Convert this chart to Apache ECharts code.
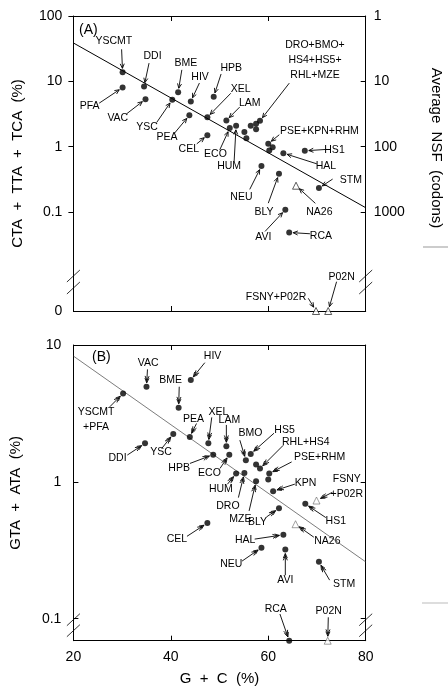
<!DOCTYPE html>
<html>
<head>
<meta charset="utf-8">
<script src="https://cdn.jsdelivr.net/npm/echarts@6/dist/echarts.min.js"></script>
<style>
  html, body { margin: 0; padding: 0; background: #fff; }
  #chart { width: 448px; height: 690px; }
</style>
</head>
<body>
<div id="chart"></div>
<script>
// ---- (A) CTA + TTA + TCA (%) vs G + C (%) ----
const namesA = ['YSCMT','PFA','DDI','VAC','YSC','BME','HIV','PEA','HPB','XEL','CEL','LAM','ECO','HUM',
  'DRO','BMO','HS4','HS5','RHL','MZE','PSE','KPN','RHM','HS1','HAL','NEU','BLY','STM','AVI','RCA'];
const gcA  = [30.1,30.1,34.5,34.8,40.3,41.5,44.1,43.8,48.8,47.5,47.5,51.4,52.1,53.4,
  55.1,55.5,56.4,57.5,57.5,58.3,60.0,60.9,60.2,67.5,63.1,58.6,62.2,70.4,63.5,64.3];
const leuA = [13.7,8.0,8.3,5.3,5.2,6.8,4.9,3.0,5.8,2.8,1.49,2.5,1.91,2.07,
  1.66,1.34,2.07,1.84,2.22,2.47,1.10,0.975,0.865,0.857,0.79,0.50,0.38,0.23,0.107,0.048];
const triNamesA = ['NA26','FSNY+P02R','P02N'];
const triGcA  = [65.7,69.8,72.3];
const triLeuA = [0.25,0,0];
const fitGcA  = [20,80];
const fitLeuA = [38.6,0.115];

// ---- (B) GTA + ATA (%) vs G + C (%) ----
const namesB = ['VAC','HIV','YSCMT+PFA','BME','YSC','PEA','DDI','XEL','LAM','HPB','ECO','BMO','HS5',
  'RHL','HS4','PSE','RHM','HUM','DRO','MZE','KPN','HS1','BLY','CEL','HAL','NEU','AVI','STM','RCA'];
const gcB  = [35.0,44.1,30.2,41.6,40.5,43.9,34.7,47.7,51.4,48.7,52.0,55.4,56.4,
  57.5,58.3,60.2,60.0,53.4,55.1,57.5,61.0,67.6,62.2,47.5,63.1,58.6,63.5,70.4,64.3];
const valB = [4.95,5.55,4.43,3.48,2.24,2.13,1.91,1.91,1.82,1.58,1.58,1.44,1.60,
  1.34,1.25,1.15,1.04,1.15,1.16,1.01,0.855,0.69,0.64,0.50,0.41,0.33,0.32,0.26,0];
const triNamesB = ['FSNY+P02R','NA26','P02N'];
const triGcB  = [69.9,65.6,72.2];
const triValB = [0.73,0.49,0];
const fitGcB  = [20,80];
const fitValB = [8.3,0.26];

// right-hand scale of (A)
const nsfTicks = [1,10,100,1000];

// zero values sit on the floor of the broken log axis
const floorA = 0.003;
const floorB = 0.069;

// label layout: [text, dot|tri, index, label dx, dy, arrow tail dx, dy] (px from the point)
const labelsA = [
  ['YSCMT','d',0,-8.7,-31.3,-1,-23],
  ['PFA','d',1,-33,19,-23.4,15.6],
  ['DDI','d',2,8.5,-30,5,-23.4],
  ['VAC','d',3,-27.7,19,-19,14.7],
  ['YSC','d',4,-25.3,27,-15.6,22.7],
  ['BME','d',5,7.8,-29,3.7,-22.3],
  ['HIV','d',6,9.3,-23.9,8.6,-18.4],
  ['PEA','d',7,-22.3,22.2,-15,18],
  ['HPB','d',8,17.5,-28.9,7.4,-22.7],
  ['XEL','d',9,33.4,-28.5,23.4,-24],
  ['CEL','d',10,-18.6,14.4,-10.6,8.7],
  ['LAM','d',11,23.3,-17.7,13.3,-13.4],
  ['ECO','d',12,-14.3,25.7,-10,21.7],
  ['HUM','d',13,-7,40.7,-2,35.7],
  ['DRO+BMO+\nHS4+HS5+\nRHL+MZE','d',19,55,-61,29.3,-37.7],
  ['PSE+KPN+RHM','d',20,51.2,-12.8,11,-9],
  ['HS1','d',23,29.7,-0.4,21.4,-1.4],
  ['HAL','d',24,42.5,13.4,33.4,10.7],
  ['STM','d',27,32,-8.3,13.7,-9],
  ['NEU','d',25,-20,30.7,-11.7,23.3],
  ['BLY','d',26,-15,38,-10.7,29.3],
  ['AVI','d',28,-22,27.5,-20.3,21.7],
  ['RCA','d',29,31.7,3.3,20.7,1.3],
  ['NA26','t',0,23.3,26,19.3,17.6],
  ['FSNY+P02R','t',1,-40,-14.3,-7.7,-12.7],
  ['P02N','t',2,13.4,-34.3,8.4,-29.3]
];
const labelsB = [
  ['VAC','d',0,1.6,-23.4,1,-17.4],
  ['HIV','d',1,21.8,-23.7,14,-17.3],
  ['YSCMT\n+PFA','d',2,-27,26.7,-13.3,13.4],
  ['BME','d',3,-7.9,-27.4,0.6,-21],
  ['YSC','d',4,-12.3,18.5,-11.6,14.7],
  ['PEA','d',5,3.7,-17.7,6.7,-13.4],
  ['DDI','d',6,-27.5,14.5,-17.7,11.7],
  ['XEL','d',7,10,-31.6,3.4,-26],
  ['LAM','d',8,3,-26.3,0,-21.3],
  ['HPB','d',9,-34.1,13,-23.3,8.8],
  ['ECO','d',10,-19.8,18.8,-9.3,13.8],
  ['BMO','d',11,4.5,-26.7,-6,-20],
  ['HS5','d',12,33.8,-24.2,23.3,-20.7],
  ['RHL+HS4','d',14,45.8,-26.1,23.3,-23.3],
  ['PSE+RHM','d',15,50.4,-16.6,22.4,-11.6],
  ['HUM','d',17,-15.2,16,-8.7,10.7],
  ['DRO','d',18,-16.5,33.1,-6,24.6],
  ['MZE','d',19,-15.7,38.2,-7,29.7],
  ['KPN','d',20,32.5,-8.2,21.7,-7],
  ['HS1','d',21,30.5,17,20.5,13.7],
  ['BLY','d',22,-21.5,13.7,-12.6,8.7],
  ['CEL','d',23,-30.4,16.5,-20.4,13.3],
  ['HAL','d',24,-38.2,5,-28.7,4.3],
  ['NEU','d',25,-30.2,16.9,-19.4,13.4],
  ['AVI','d',26,0,30.4,0,25.7],
  ['STM','d',27,25.2,22,10.7,18.3],
  ['RCA','d',28,-13.5,-32,-9.3,-26.7],
  ['FSNY\n+P02R','t',0,30.3,-14,16,-8.3],
  ['NA26','t',1,31.8,16.9,18.3,13],
  ['P02N','t',2,1,-29.2,0.6,-23.4]
];

const FONT = '"Liberation Sans", Arial, Helvetica, sans-serif';
const pts = (xs, ys, floor) => xs.map((x, i) => [x, ys[i] === 0 ? floor : ys[i]]);
const dotsA = pts(gcA, leuA, floorA), trisA = pts(triGcA, triLeuA, floorA);
const dotsB = pts(gcB, valB, floorB), trisB = pts(triGcB, triValB, floorB);

const isDecade = v => { const e = Math.log10(v); return Math.abs(e - Math.round(e)) < 1e-6; };
const decadeText = v => String(+v.toPrecision(6));

const chart = echarts.init(document.getElementById('chart'));

const xBase = (grid, pos, labels) => ({
  gridIndex: grid, type: 'value', min: 20, max: 80, interval: 20, position: pos,
  axisLine: { show: true, lineStyle: { color: '#000', width: 1 } },
  axisTick: { show: true, inside: true, length: 5, lineStyle: { color: '#000' } },
  axisLabel: { show: labels, color: '#000', fontSize: 14, fontFamily: FONT, margin: 9 },
  splitLine: { show: false }
});

chart.setOption({
  animation: false,
  grid: [
    { left: 73.4, top: 16, width: 292.3, height: 295 },
    { left: 73.4, top: 345, width: 292.3, height: 295.7 },
    { left: 73.4, top: 16, width: 292.3, height: 196 }
  ],
  xAxis: [
    xBase(0, 'bottom', false),
    xBase(0, 'top', false),
    Object.assign(xBase(1, 'bottom', true), {
      name: 'G  +  C  (%)', nameLocation: 'middle', nameGap: 31,
      nameTextStyle: { color: '#000', fontSize: 15, fontFamily: FONT }
    }),
    xBase(1, 'top', false),
    { gridIndex: 2, type: 'value', min: 20, max: 80, show: false }
  ],
  yAxis: [
    { // (A) data axis, only the "0" label at the floor
      gridIndex: 0, type: 'log', min: floorA, max: 100, position: 'left',
      axisLine: { show: true, lineStyle: { color: '#000' } },
      axisTick: { show: false },
      axisLabel: { showMinLabel: true, color: '#000', fontSize: 14, fontFamily: FONT, margin: 11,
        formatter: v => (v < 0.005 ? '0' : '') },
      splitLine: { show: false },
      name: 'CTA  +  TTA  +  TCA  (%)', nameLocation: 'middle', nameRotate: 90, nameGap: 48,
      nameTextStyle: { color: '#000', fontSize: 15, fontFamily: FONT }
    },
    {
      gridIndex: 0, type: 'log', min: floorA, max: 100, position: 'right',
      axisLine: { show: true, lineStyle: { color: '#000' } },
      axisTick: { show: false }, axisLabel: { show: false }, splitLine: { show: false }
    },
    { // (B)
      gridIndex: 1, type: 'log', min: floorB, max: 10, position: 'left',
      axisLine: { show: true, lineStyle: { color: '#000' } },
      axisTick: { show: true, inside: true, length: 5, lineStyle: { color: '#000' } },
      axisLabel: { showMinLabel: true, showMaxLabel: true, color: '#000', fontSize: 14, fontFamily: FONT, margin: 12,
        formatter: v => (isDecade(v) ? decadeText(v) : '') },
      splitLine: { show: false },
      name: 'GTA  +  ATA  (%)', nameLocation: 'middle', nameRotate: 90, nameGap: 50,
      nameTextStyle: { color: '#000', fontSize: 15, fontFamily: FONT }
    },
    {
      gridIndex: 1, type: 'log', min: floorB, max: 10, position: 'right',
      axisLine: { show: true, lineStyle: { color: '#000' } },
      axisTick: { show: true, inside: true, length: 5, lineStyle: { color: '#000' } },
      axisLabel: { show: false }, splitLine: { show: false }
    },
    { // (A) labelled decades, left
      gridIndex: 2, type: 'log', min: 0.1, max: 100, position: 'left',
      axisLine: { show: false },
      axisTick: { show: true, inside: false, length: 5, lineStyle: { color: '#000' } },
      axisLabel: { showMinLabel: true, showMaxLabel: true, color: '#000', fontSize: 14, fontFamily: FONT, margin: 11,
        formatter: v => decadeText(v) },
      splitLine: { show: false }
    },
    { // (A) average NSF, right
      gridIndex: 2, type: 'log', inverse: true, min: nsfTicks[0], max: nsfTicks[nsfTicks.length - 1], position: 'right',
      axisLine: { show: false },
      axisTick: { show: true, inside: true, length: 5, lineStyle: { color: '#000' } },
      axisLabel: { showMinLabel: true, showMaxLabel: true, color: '#000', fontSize: 14, fontFamily: FONT, margin: 8,
        formatter: v => decadeText(v) },
      splitLine: { show: false }
    }
  ],
  series: [
    { type: 'scatter', xAxisIndex: 0, yAxisIndex: 0, data: dotsA, symbol: 'circle', symbolSize: 6,
      itemStyle: { color: '#000' }, silent: true },
    { type: 'scatter', xAxisIndex: 0, yAxisIndex: 0, data: trisA, symbol: 'triangle', symbolSize: 7,
      itemStyle: { color: '#fff', borderColor: '#000', borderWidth: 0.8 }, silent: true },
    { type: 'line', xAxisIndex: 0, yAxisIndex: 0, data: pts(fitGcA, fitLeuA, floorA), symbol: 'none',
      lineStyle: { color: '#000', width: 1 }, silent: true, z: 1 },
    { type: 'scatter', xAxisIndex: 2, yAxisIndex: 2, data: dotsB, symbol: 'circle', symbolSize: 6,
      itemStyle: { color: '#000' }, silent: true },
    { type: 'scatter', xAxisIndex: 2, yAxisIndex: 2, data: trisB, symbol: 'triangle', symbolSize: 7,
      itemStyle: { color: '#fff', borderColor: '#555', borderWidth: 0.7 }, silent: true },
    { type: 'line', xAxisIndex: 2, yAxisIndex: 2, data: pts(fitGcB, fitValB, floorB), symbol: 'none',
      lineStyle: { color: '#444', width: 0.7 }, silent: true, z: 1 }
  ]
});

// labels with arrows, placed from the library's pixel conversion
const graphics = [];
function arrowHead(tip, ux, uy, len) {
  const a = 0.42;
  const c = Math.cos(a), s = Math.sin(a);
  const b1 = [tip[0] - len * (ux * c - uy * s), tip[1] - len * (uy * c + ux * s)];
  const b2 = [tip[0] - len * (ux * c + uy * s), tip[1] - len * (uy * c - ux * s)];
  graphics.push({ type: 'polyline', shape: { points: [b1, tip, b2] }, silent: true,
    style: { stroke: '#000', fill: null, lineWidth: 0.9 } });
}
function annotate(labels, dotSeries, triSeries, dots, tris, doubleHead) {
  labels.forEach(([text, kind, i, lx, ly, tx, ty]) => {
    const p = chart.convertToPixel({ seriesIndex: kind === 'd' ? dotSeries : triSeries },
      (kind === 'd' ? dots : tris)[i]);
    graphics.push({ type: 'text', x: p[0] + lx, y: p[1] + ly, silent: true,
      style: { text, font: '10.5px ' + FONT, fill: '#000', align: 'center', verticalAlign: 'middle', lineHeight: 15 } });
    const t = [p[0] + tx, p[1] + ty];
    const dx = p[0] - t[0], dy = p[1] - t[1];
    const d = Math.hypot(dx, dy), ux = dx / d, uy = dy / d;
    const gap = kind === 'd' ? 4 : 4.5;
    const tip = [p[0] - ux * gap, p[1] - uy * gap];
    graphics.push({ type: 'line', shape: { x1: t[0], y1: t[1], x2: tip[0], y2: tip[1] }, silent: true,
      style: { stroke: '#000', lineWidth: 0.9 } });
    arrowHead(tip, ux, uy, 5);
    if (doubleHead) arrowHead([tip[0] - ux * 2.2, tip[1] - uy * 2.2], ux, uy, 5);
  });
}
annotate(labelsA, 0, 1, dotsA, trisA, false);
annotate(labelsB, 3, 4, dotsB, trisB, true);

// axis breaks
function breakMarks(seriesIndex, floor, offs) {
  const bl = chart.convertToPixel({ seriesIndex }, [20, floor]);
  const br = chart.convertToPixel({ seriesIndex }, [80, floor]);
  [bl[0], br[0]].forEach(x => {
    graphics.push({ type: 'rect', shape: { x: x - 2, y: bl[1] - offs[1], width: 4, height: offs[1] - offs[0] },
      style: { fill: '#fff' }, silent: true });
    offs.forEach(o => {
      graphics.push({ type: 'line', shape: { x1: x - 6.5, y1: bl[1] - o + 6, x2: x + 6.5, y2: bl[1] - o - 6 },
        style: { stroke: '#000', lineWidth: 0.8 }, silent: true });
    });
  });
}
breakMarks(0, floorA, [23, 35]);
breakMarks(3, floorB, [10, 21]);

graphics.push(
  { type: 'text', x: 79, y: 30, silent: true,
    style: { text: '(A)', font: '14px ' + FONT, fill: '#000', align: 'left', verticalAlign: 'middle' } },
  { type: 'text', x: 92, y: 357.5, silent: true,
    style: { text: '(B)', font: '14px ' + FONT, fill: '#000', align: 'left', verticalAlign: 'middle' } },
  { type: 'text', x: 436, y: 148, rotation: -Math.PI / 2, silent: true,
    style: { text: 'Average  NSF  (codons)', font: '15px ' + FONT, fill: '#000', align: 'center', verticalAlign: 'middle' } },
  { type: 'line', shape: { x1: 423, y1: 247, x2: 448, y2: 247 }, style: { stroke: '#999', lineWidth: 1 }, silent: true },
  { type: 'line', shape: { x1: 422, y1: 603, x2: 448, y2: 603 }, style: { stroke: '#bbb', lineWidth: 1 }, silent: true }
);

chart.setOption({ graphic: graphics });
</script>
</body>
</html>
